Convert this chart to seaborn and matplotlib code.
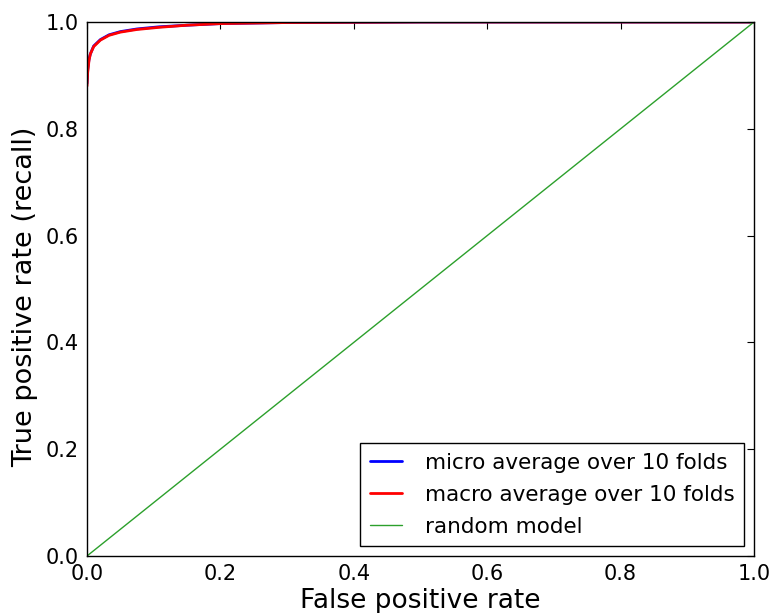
import matplotlib
matplotlib.use("Agg")
import matplotlib.pyplot as plt
import seaborn as sns
import pandas as pd

fpr_micro = [0.0, 0.001, 0.003, 0.005, 0.01, 0.02, 0.033, 0.05, 0.075, 0.108, 0.15, 0.2, 0.3, 0.5, 1.0]
tpr_micro = [0.885, 0.91, 0.93, 0.94, 0.955, 0.967, 0.976, 0.982, 0.987, 0.991, 0.994, 0.997, 0.999, 1.0, 1.0]
fpr_macro = [0.0, 0.001, 0.003, 0.005, 0.01, 0.02, 0.033, 0.05, 0.075, 0.108, 0.15, 0.2, 0.3, 0.5, 1.0]
tpr_macro = [0.88, 0.905, 0.928, 0.94, 0.954, 0.966, 0.975, 0.981, 0.986, 0.99, 0.994, 0.997, 0.999, 1.0, 1.0]
rand_x = [0.0, 1.0]
rand_y = [0.0, 1.0]
labels = ["micro average over 10 folds", "macro average over 10 folds", "random model"]
ticks = [0.0, 0.2, 0.4, 0.6, 0.8, 1.0]

sns.set_style("white")
plt.rcParams['font.family'] = ['DejaVu Sans']
plt.rcParams['text.color'] = 'black'
plt.rcParams['axes.labelcolor'] = 'black'
plt.rcParams['xtick.color'] = 'black'
plt.rcParams['ytick.color'] = 'black'

fig = plt.figure(figsize=(7.73, 6.13), dpi=100)
ax = fig.add_axes([87/773, 1-556/613, 667/773, 534/613])

df_micro = pd.DataFrame({"fpr": fpr_micro, "tpr": tpr_micro})
df_macro = pd.DataFrame({"fpr": fpr_macro, "tpr": tpr_macro})
df_rand = pd.DataFrame({"fpr": rand_x, "tpr": rand_y})

sns.lineplot(data=df_micro, x="fpr", y="tpr", color="#0000ff", lw=2, label=labels[0], ax=ax, sort=False, estimator=None)
sns.lineplot(data=df_macro, x="fpr", y="tpr", color="#ff0000", lw=2, label=labels[1], ax=ax, sort=False, estimator=None)
sns.lineplot(data=df_rand, x="fpr", y="tpr", color="#2ca02c", lw=1, label=labels[2], ax=ax, sort=False, estimator=None)

ax.set_xlim(0, 1)
ax.set_ylim(0, 1)
ax.set_xticks(ticks)
ax.set_yticks(ticks)
ax.set_xticklabels([f"{t:.1f}" for t in ticks])
ax.set_yticklabels([f"{t:.1f}" for t in ticks])
ax.tick_params(direction="in", top=True, right=True, length=5, width=0.8, labelsize=15,
               colors="black", labelcolor="black", pad=6)
for s in ax.spines.values():
    s.set_color("black")
    s.set_linewidth(1.0)
ax.set_xlabel("False positive rate", fontsize=19, labelpad=3, color="black")
ax.set_ylabel("True positive rate (recall)", fontsize=19.5, color="black")
ax.yaxis.set_label_coords(-0.073, 0.485)

leg = ax.legend(loc="lower right", fontsize=15.5, frameon=True, fancybox=False, framealpha=1,
                edgecolor="black", handlelength=1.5, borderpad=0.45, handletextpad=1.05,
                labelspacing=0.55, borderaxespad=0.45)
leg.get_frame().set_linewidth(1.0)
for t in leg.get_texts():
    t.set_color("black")

fig.savefig("out.png", dpi=100)
